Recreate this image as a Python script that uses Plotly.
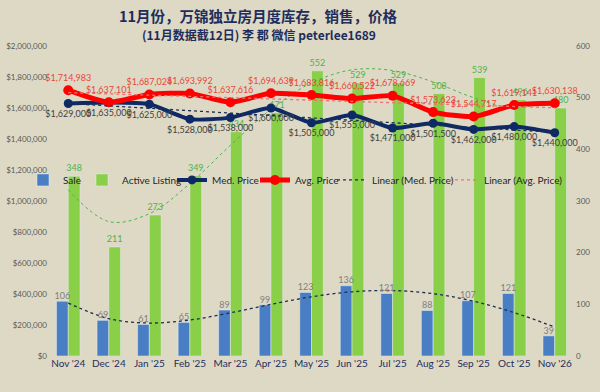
import numpy as np
import plotly.graph_objects as go

months = ["Nov '24", "Dec '24", "Jan '25", "Feb '25", "Mar '25", "Apr '25", "May '25",
          "Jun '25", "Jul '25", "Aug '25", "Sep '25", "Oct '25", "Nov '26"]
sale = [106, 69, 61, 65, 89, 99, 123, 136, 121, 88, 107, 121, 39]
active = [348, 211, 273, 349, 434, 471, 552, 529, 529, 508, 539, 496, 480]
med_price = [1629000, 1635000, 1625000, 1528000, 1538000, 1600000, 1505000,
             1555000, 1471000, 1501500, 1462000, 1480000, 1440000]
avg_price = [1714983, 1637101, 1687024, 1693992, 1637616, 1694639, 1683816,
             1660522, 1678669, 1573623, 1544717, 1619141, 1630138]

left_ticks = list(range(0, 2000001, 200000))
left_tick_text = ["$0"] + ["${:,}".format(v) for v in left_ticks[1:]]
right_ticks = list(range(0, 601, 100))

BARGAP = 0.42
idx = np.arange(len(months))
def trend(vals, deg):
    c = np.polyfit(idx, vals, deg)
    return np.polyval(c, idx)

FONT = "Lato"
fig = go.Figure()

fig.add_trace(go.Bar(x=months, y=sale, name="Sale", marker_color="#4A7EC4",
                     yaxis="y", legend="legend"))
fig.add_trace(go.Bar(x=months, y=active, name="Active Listing", marker_color="#8ACF48",
                     text=[str(v) for v in active], textposition="outside", constraintext="none",
                     textfont=dict(color="#4DB34D", size=9, family=FONT),
                     cliponaxis=False, yaxis="y", legend="legend2"))
# Sale value labels, drawn above the bars (centre of the first bar in each group)
fig.add_trace(go.Scatter(x=idx - (1 - BARGAP) / 4, y=sale, mode="text", showlegend=False,
                         text=[str(v) for v in sale], textposition="top center",
                         textfont=dict(color="#7F7F7F", size=9, family=FONT),
                         xaxis="x2", yaxis="y", cliponaxis=False, hoverinfo="skip"))
fig.add_trace(go.Scatter(x=months, y=trend(sale, 4), mode="lines", showlegend=False,
                         line=dict(color="#1F2D4F", width=1.3, dash="dot", shape="spline"),
                         yaxis="y", hoverinfo="skip"))
fig.add_trace(go.Scatter(x=months, y=trend(active, 4), mode="lines", showlegend=False,
                         line=dict(color="#4DB34D", width=1, dash="dot", shape="spline"),
                         yaxis="y", hoverinfo="skip"))

fig.add_trace(go.Scatter(x=months, y=med_price, name="Med. Price", mode="lines+markers+text",
                         line=dict(color="#0E2A66", width=4, shape="spline", smoothing=0.6),
                         marker=dict(size=9, color="#0E2A66"),
                         text=["${:,}".format(v) for v in med_price], textposition="bottom center",
                         textfont=dict(color="#3F3F3F", size=9, family=FONT),
                         cliponaxis=False, yaxis="y2", legend="legend3"))
fig.add_trace(go.Scatter(x=months, y=avg_price, name="Avg. Price", mode="lines+markers+text",
                         line=dict(color="#FF0000", width=5, shape="spline", smoothing=0.6),
                         marker=dict(size=10, color="#FF0000"),
                         text=["${:,}".format(v) for v in avg_price], textposition="top center",
                         textfont=dict(color="#E8483C", size=9, family=FONT),
                         cliponaxis=False, yaxis="y2", legend="legend4"))
fig.add_trace(go.Scatter(x=months, y=trend(med_price, 1), name="Linear (Med. Price)", mode="lines",
                         line=dict(color="#1F2D4F", width=1.3, dash="dot"), yaxis="y2",
                         hoverinfo="skip", legend="legend5"))
fig.add_trace(go.Scatter(x=months, y=trend(avg_price, 1), name="Linear (Avg. Price)", mode="lines",
                         line=dict(color="#F07070", width=1.3, dash="dot"), yaxis="y2",
                         hoverinfo="skip", legend="legend6"))

L, W = 48.0, 527.0
def leg(text_px):
    return dict(orientation="h", xref="paper", x=(text_px - 40 - L) / W, xanchor="left",
                yref="paper", y=0.568, yanchor="middle", bgcolor="rgba(0,0,0,0)",
                font=dict(size=10, color="#1F1F1F", family=FONT), itemwidth=30,
                borderwidth=0)

fig.update_layout(
    width=600, height=392,
    margin=dict(l=48, r=25, t=46, b=36, autoexpand=False),
    paper_bgcolor="#DDD9C5", plot_bgcolor="#DDD9C5",
    barmode="group", bargap=BARGAP, bargroupgap=0,
    font=dict(family=FONT, color="#404040"),
    xaxis=dict(type="category", range=[-0.5, len(months) - 0.5], showgrid=False,
               showline=False, zeroline=False,
               tickfont=dict(size=10, color="#1F2D5C", family=FONT), ticks=""),
    xaxis2=dict(overlaying="x", range=[-0.5, len(months) - 0.5], visible=False),
    yaxis=dict(range=[0, 600], tickvals=right_ticks, side="right", showgrid=False,
               zeroline=False, showline=False,
               tickfont=dict(size=8, color="#595959", family=FONT)),
    yaxis2=dict(range=[0, 2000000], tickvals=left_ticks, ticktext=left_tick_text,
                overlaying="y", side="left", showgrid=False, zeroline=False, showline=False,
                tickfont=dict(size=8, color="#595959", family=FONT)),
    legend=leg(63), legend2=leg(122), legend3=leg(212), legend4=leg(295),
    legend5=leg(372), legend6=leg(484),
    showlegend=True,
    annotations=[
        dict(text="<b>11月份，万锦独立房月度库存，销售，价格</b>", xref="paper", yref="paper",
             x=0.40, y=1, yshift=31, xanchor="center", yanchor="middle", showarrow=False,
             font=dict(size=14.5, color="#1F2D5C", family="Noto Sans CJK SC")),
        dict(text="<b>(11月数据截12日) 李 郡 微信 peterlee1689</b>", xref="paper", yref="paper",
             x=0.40, y=1, yshift=12, xanchor="center", yanchor="middle", showarrow=False,
             font=dict(size=12, color="#1F2D5C", family="Noto Sans CJK SC")),
    ],
)

fig.write_html("out.html", config={"displayModeBar": False},
               post_script="document.body.style.margin='0';document.body.style.background='#DDD9C5';")
